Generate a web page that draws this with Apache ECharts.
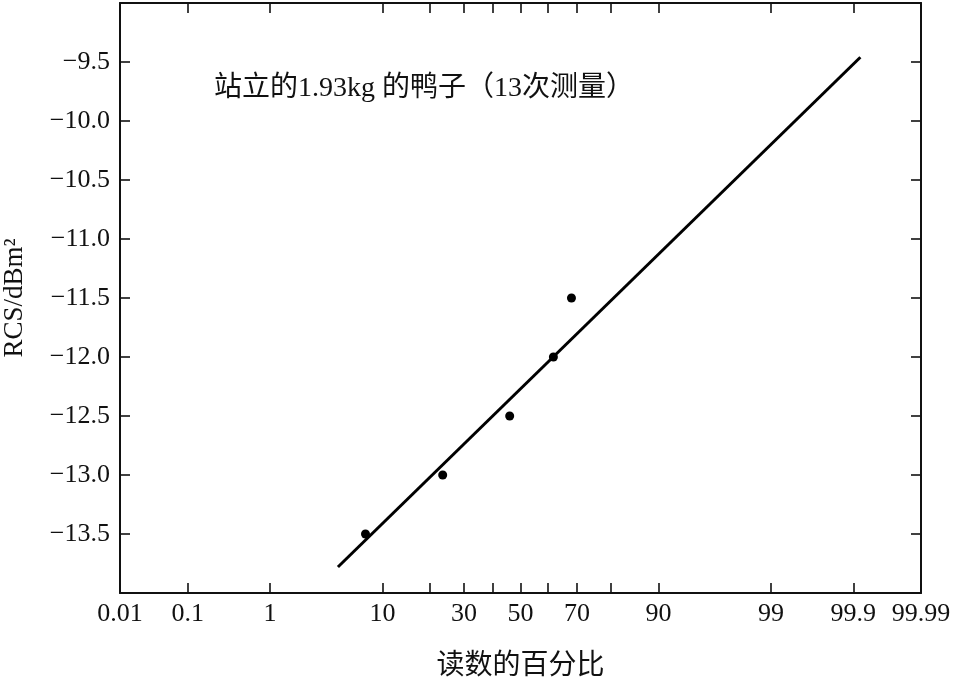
<!DOCTYPE html>
<html>
<head>
<meta charset="utf-8">
<script src="https://cdn.jsdelivr.net/npm/echarts@6/dist/echarts.min.js"></script>
<style>html,body{margin:0;padding:0;background:#fff}#c{width:962px;height:680px}</style>
</head>
<body>
<div id="c"></div>
<script>
// ---- data (percent of readings vs RCS) ----
const pointPercents = [7.5, 23.5, 46.0, 62.0, 68.2];
const pointRCS = [-13.5, -13.0, -12.5, -12.0, -11.5];
const linePercents = [4.5, 99.92];
const lineRCS = [-13.78, -9.46];
const tickPercents = [0.01, 0.1, 1, 10, 20, 30, 40, 50, 60, 70, 80, 90, 99, 99.9, 99.99];
const labelPercents = [0.01, 0.1, 1, 10, 30, 50, 70, 90, 99, 99.9, 99.99];
const labelTexts = ['0.01', '0.1', '1', '10', '30', '50', '70', '90', '99', '99.9', '99.99'];
const yMin = -14, yMax = -9, yStep = 0.5;
const titleText = '站立的1.93kg 的鸭子（13次测量）';
const xName = '读数的百分比';
const yName = 'RCS/dBm²';

// normal probability scale: percent -> standard normal quantile (Acklam)
function probit(pct) {
  const p = pct / 100;
  const a = [-3.969683028665376e+01, 2.209460984245205e+02, -2.759285104469687e+02, 1.383577518672690e+02, -3.066479806614716e+01, 2.506628277459239e+00];
  const b = [-5.447609879822406e+01, 1.615858368580409e+02, -1.556989798598866e+02, 6.680131188771972e+01, -1.328068155288572e+01];
  const c = [-7.784894002430293e-03, -3.223964580411365e-01, -2.400758277161838e+00, -2.549732539343734e+00, 4.374664141464968e+00, 2.938163982698783e+00];
  const d = [7.784695709041462e-03, 3.224671290700398e-01, 2.445134137142996e+00, 3.754408661907416e+00];
  const pl = 0.02425, ph = 1 - pl;
  let q, r;
  if (p < pl) {
    q = Math.sqrt(-2 * Math.log(p));
    return (((((c[0]*q+c[1])*q+c[2])*q+c[3])*q+c[4])*q+c[5]) / ((((d[0]*q+d[1])*q+d[2])*q+d[3])*q+1);
  } else if (p <= ph) {
    q = p - 0.5; r = q * q;
    return (((((a[0]*r+a[1])*r+a[2])*r+a[3])*r+a[4])*r+a[5])*q / (((((b[0]*r+b[1])*r+b[2])*r+b[3])*r+b[4])*r+1);
  } else {
    q = Math.sqrt(-2 * Math.log(1 - p));
    return -(((((c[0]*q+c[1])*q+c[2])*q+c[3])*q+c[4])*q+c[5]) / ((((d[0]*q+d[1])*q+d[2])*q+d[3])*q+1);
  }
}

const tickZ = tickPercents.map(probit);
const labelZ = labelPercents.map(probit);
const xMin = probit(labelPercents[0]);
const xMax = probit(labelPercents[labelPercents.length - 1]);

const serif = "'Liberation Serif', 'Times New Roman', 'Noto Sans CJK SC', serif";
const axisStyle = { onZero: false, lineStyle: { color: '#111', width: 2 } };
const tickStyle = { inside: true, length: 10, lineStyle: { color: '#111', width: 1.6 } };

function fmtX(v) {
  let best = 0, bd = Infinity;
  labelZ.forEach((z, i) => { const dd = Math.abs(z - v); if (dd < bd) { bd = dd; best = i; } });
  return labelTexts[best];
}

const chart = echarts.init(document.getElementById('c'));
chart.setOption({
  backgroundColor: '#fff',
  animation: false,
  title: {
    text: titleText,
    left: 209, top: 70,
    textStyle: { fontFamily: serif, fontSize: 28, fontWeight: 'normal', color: '#111' }
  },
  grid: { left: 120, right: 41, top: 3, bottom: 87, containLabel: false, outerBoundsMode: 'none' },
  xAxis: [{
    type: 'value', position: 'bottom', min: xMin, max: xMax,
    name: xName, nameLocation: 'middle', nameGap: 60,
    nameTextStyle: { fontFamily: serif, fontSize: 28, color: '#111' },
    axisLine: axisStyle,
    axisTick: Object.assign({ customValues: tickZ }, tickStyle),
    axisLabel: { customValues: labelZ, formatter: fmtX, fontFamily: serif, fontSize: 26, color: '#111', margin: 8 },
    splitLine: { show: false }
  }, {
    type: 'value', position: 'top', min: xMin, max: xMax,
    axisLine: axisStyle,
    axisTick: Object.assign({ customValues: tickZ }, tickStyle),
    axisLabel: { show: false },
    splitLine: { show: false }
  }],
  yAxis: [{
    type: 'value', position: 'left', min: yMin, max: yMax, interval: yStep,
    name: yName, nameLocation: 'middle', nameGap: 92,
    nameTextStyle: { fontFamily: serif, fontSize: 27, color: '#111' },
    axisLine: axisStyle,
    axisTick: tickStyle,
    axisLabel: {
      showMinLabel: false, showMaxLabel: false,
      formatter: v => (v < 0 ? '\u2212' : '') + Math.abs(v).toFixed(1),
      fontFamily: serif, fontSize: 26, color: '#111', margin: 10
    },
    splitLine: { show: false }
  }, {
    type: 'value', position: 'right', min: yMin, max: yMax, interval: yStep,
    axisLine: axisStyle,
    axisTick: tickStyle,
    axisLabel: { show: false },
    splitLine: { show: false }
  }],
  series: [{
    type: 'line',
    data: linePercents.map((p, i) => [probit(p), lineRCS[i]]),
    showSymbol: false, symbol: 'none',
    lineStyle: { color: '#000', width: 3 },
    silent: true
  }, {
    type: 'scatter',
    data: pointPercents.map((p, i) => [probit(p), pointRCS[i]]),
    symbol: 'circle', symbolSize: 9,
    itemStyle: { color: '#000', opacity: 1 }
  }]
});
</script>
</body>
</html>
